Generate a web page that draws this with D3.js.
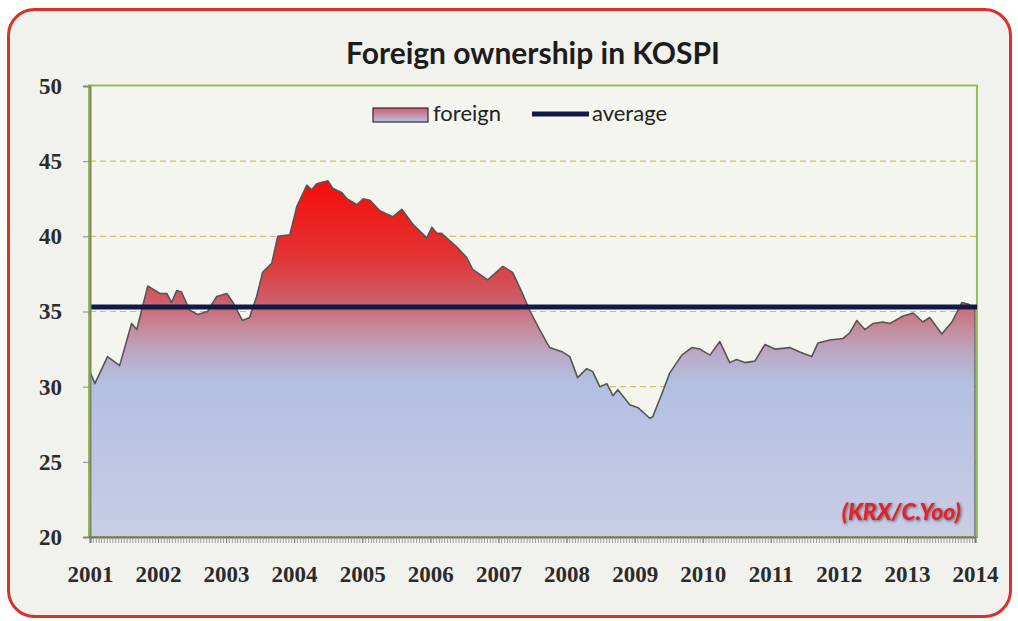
<!DOCTYPE html>
<html>
<head>
<meta charset="utf-8">
<script src="https://cdn.jsdelivr.net/npm/d3@7"></script>
<style>
  body { margin: 0; background: #ffffff; }
  svg { display: block; }
</style>
</head>
<body>
<svg id="chart" width="1018" height="621"></svg>
<script>
// Foreign share of KOSPI market capitalisation (%), sampled at turning points
const dates = [
  "2001-01-01","2001-01-27","2001-04-05","2001-06-09","2001-08-12","2001-09-09","2001-11-07",
  "2002-01-11","2002-02-17","2002-03-14","2002-04-11","2002-05-07","2002-06-19","2002-08-01",
  "2002-09-24","2002-11-12","2003-01-05","2003-02-07","2003-03-30","2003-05-07","2003-06-14",
  "2003-07-16","2003-09-03","2003-10-05","2003-12-09","2004-01-16","2004-03-09","2004-04-05",
  "2004-05-01","2004-06-30","2004-07-26","2004-09-14","2004-10-10","2004-12-03","2005-01-05",
  "2005-02-11","2005-04-05","2005-06-13","2005-08-01","2005-09-29","2005-12-13","2006-01-09",
  "2006-02-05","2006-03-02","2006-05-22","2006-07-14","2006-08-16","2006-11-05","2007-01-25",
  "2007-03-18","2007-05-10","2007-06-17","2007-08-10","2007-10-03","2007-12-12","2008-01-19",
  "2008-03-01","2008-04-19","2008-05-21","2008-06-28","2008-08-05","2008-09-06","2008-10-03",
  "2008-12-06","2009-01-19","2009-03-23","2009-04-08","2009-05-26","2009-07-08","2009-09-11",
  "2009-11-04","2009-12-17","2010-02-09","2010-04-03","2010-05-26","2010-07-02","2010-08-15",
  "2010-10-08","2010-12-01","2011-01-24","2011-04-13","2011-06-06","2011-08-09","2011-09-11",
  "2011-11-14","2012-01-23","2012-03-01","2012-04-07","2012-05-20","2012-07-02","2012-08-25",
  "2012-10-02","2012-12-11","2013-02-03","2013-03-27","2013-05-03","2013-07-07","2013-08-30",
  "2013-10-23","2013-11-24","2014-01-01"
];
const foreign = [
  31.0, 30.2, 32.0, 31.4, 34.2, 33.8, 36.7,
  36.2, 36.2, 35.6, 36.4, 36.3, 35.1, 34.8,
  35.0, 36.0, 36.2, 35.6, 34.4, 34.6, 36.0,
  37.6, 38.2, 40.0, 40.1, 42.0, 43.4, 43.1,
  43.5, 43.7, 43.2, 42.9, 42.5, 42.1, 42.5,
  42.4, 41.7, 41.3, 41.8, 40.8, 39.9, 40.6,
  40.2, 40.2, 39.3, 38.6, 37.8, 37.1, 38.0,
  37.6, 36.2, 35.1, 33.8, 32.6, 32.3, 32.0,
  30.6, 31.2, 31.0, 30.0, 30.2, 29.4, 29.8,
  28.8, 28.6, 27.9, 28.0, 29.5, 30.9, 32.1,
  32.6, 32.5, 32.1, 33.0, 31.6, 31.8, 31.6,
  31.7, 32.8, 32.5, 32.6, 32.3, 32.0, 32.9,
  33.1, 33.2, 33.6, 34.4, 33.8, 34.2, 34.3,
  34.2, 34.7, 34.9, 34.3, 34.6, 33.5, 34.3,
  35.6, 35.5, 35.2
];
const average = 35.3;
const yTicks = [20, 25, 30, 35, 40, 45, 50];
const gridValues = [25, 30, 35, 40, 45];
const yearLabels = [2001,2002,2003,2004,2005,2006,2007,2008,2009,2010,2011,2012,2013,2014];
const legendLabels = ["foreign", "average"];
const titleText = "Foreign ownership in KOSPI";
const sourceText = "(KRX/C.Yoo)";

const parse = d3.timeParse("%Y-%m-%d");
const series = dates.map((d, i) => ({ date: parse(d), value: foreign[i] }));

const svg = d3.select("#chart");
const plot = { left: 90, right: 975, top: 86, bottom: 537 };

const x = d3.scaleTime()
  .domain([new Date(2001, 0, 1), new Date(2014, 0, 1)])
  .range([plot.left, plot.right]);
const y = d3.scaleLinear().domain([20, 50]).range([plot.bottom, plot.top]);

const defs = svg.append("defs");

// vertical fill: red above the mean band, lavender-blue below
const grad = defs.append("linearGradient")
  .attr("id", "areaFill")
  .attr("gradientUnits", "userSpaceOnUse")
  .attr("x1", 0).attr("x2", 0)
  .attr("y1", y(44)).attr("y2", y(20));
[
  [0.00, "#f80a0a"],
  [0.22, "#e33333"],
  [0.34, "#cd5c68"],
  [0.42, "#c58a9c"],
  [0.49, "#bba8c4"],
  [0.57, "#b3bfe0"],
  [1.00, "#c9cde6"]
].forEach(([o, c]) => grad.append("stop").attr("offset", o).attr("stop-color", c));

const legendGrad = defs.append("linearGradient")
  .attr("id", "legendFill").attr("x1", 0).attr("x2", 0).attr("y1", 0).attr("y2", 1);
legendGrad.append("stop").attr("offset", 0).attr("stop-color", "#d0606c");
legendGrad.append("stop").attr("offset", 1).attr("stop-color", "#b8c2e2");

const glow = defs.append("filter").attr("id", "srcShadow")
  .attr("x", "-10%").attr("y", "-30%").attr("width", "120%").attr("height", "160%");
glow.append("feGaussianBlur").attr("in", "SourceAlpha").attr("stdDeviation", 1.6).attr("result", "b");
glow.append("feOffset").attr("in", "b").attr("dx", 1).attr("dy", 1).attr("result", "o");
glow.append("feComponentTransfer").attr("in", "o").attr("result", "s")
  .append("feFuncA").attr("type", "linear").attr("slope", 0.55);
const merge = glow.append("feMerge");
merge.append("feMergeNode").attr("in", "s");
merge.append("feMergeNode").attr("in", "SourceGraphic");

// card with rounded red frame
svg.append("rect")
  .attr("x", 8.5).attr("y", 9.5).attr("width", 1002).attr("height", 607)
  .attr("rx", 26).attr("ry", 26)
  .attr("fill", "#f1f1ed").attr("stroke", "#d6322c").attr("stroke-width", 3);

// plot background
svg.append("rect")
  .attr("x", plot.left).attr("y", plot.top)
  .attr("width", plot.right - plot.left).attr("height", plot.bottom - plot.top)
  .attr("fill", "#f5f5ef");

// dashed gridlines
svg.append("g").selectAll("line").data(gridValues).join("line")
  .attr("x1", plot.left).attr("x2", plot.right + 2)
  .attr("y1", d => y(d)).attr("y2", d => y(d))
  .attr("stroke", "#cdc46a").attr("stroke-width", 1.2)
  .attr("stroke-dasharray", "6,4");

// area + outline
const area = d3.area().x(d => x(d.date)).y0(y(20)).y1(d => y(d.value));
const line = d3.line().x(d => x(d.date)).y(d => y(d.value));

svg.append("path").datum(series)
  .attr("d", area).attr("fill", "url(#areaFill)");
svg.append("path").datum(series)
  .attr("d", line).attr("fill", "none")
  .attr("stroke", "#565656").attr("stroke-width", 1.6).attr("stroke-linejoin", "round");
svg.append("line")
  .attr("x1", x(series[series.length - 1].date)).attr("x2", x(series[series.length - 1].date))
  .attr("y1", y(series[series.length - 1].value)).attr("y2", y(20))
  .attr("stroke", "#565656").attr("stroke-width", 1.2);

// plot frame (green)
svg.append("rect")
  .attr("x", plot.left - 1).attr("y", plot.top - 0.5)
  .attr("width", plot.right - plot.left + 3).attr("height", plot.bottom - plot.top + 0.5)
  .attr("fill", "none").attr("stroke", "#9cbb5a").attr("stroke-width", 2);

// average line
svg.append("line")
  .attr("x1", plot.left).attr("x2", plot.right + 2)
  .attr("y1", y(average)).attr("y2", y(average))
  .attr("stroke", "#101a48").attr("stroke-width", 5);

// y axis
const yAxis = svg.append("g")
  .attr("transform", `translate(${plot.left},0)`)
  .call(d3.axisLeft(y).tickValues(yTicks).tickSize(7).tickPadding(21).tickFormat(d3.format("d")));
yAxis.select(".domain").attr("stroke", "#7e876a").attr("stroke-width", 2);
yAxis.selectAll(".tick line").attr("stroke", "#8a8a8a");
yAxis.selectAll("text")
  .attr("font-family", "'Liberation Serif', 'DejaVu Serif', serif")
  .attr("font-weight", "bold").attr("font-size", 23).attr("fill", "#2b2b2b");

// x axis: minor ticks
const minorDates = d3.timeMonth.range(new Date(2001, 0, 1), new Date(2014, 0, 2))
  .flatMap(m => [m, new Date(m.getFullYear(), m.getMonth(), 16)])
  .filter(d => d <= new Date(2014, 0, 1));
const xMinor = svg.append("g")
  .attr("transform", `translate(0,${plot.bottom})`)
  .call(d3.axisBottom(x).tickValues(minorDates).tickSize(6).tickFormat(""));
xMinor.select(".domain").attr("stroke", "#6e6e6e").attr("stroke-width", 2);
xMinor.selectAll(".tick line").attr("stroke", "#8c8c8c").attr("stroke-width", 0.8);

// x axis: year labels
const xAxis = svg.append("g")
  .attr("transform", `translate(0,${plot.bottom})`)
  .call(d3.axisBottom(x)
    .tickValues(yearLabels.map(yr => new Date(yr, 0, 1)))
    .tickSize(6).tickPadding(23).tickFormat(d3.timeFormat("%Y")));
xAxis.select(".domain").remove();
xAxis.selectAll(".tick line").attr("stroke", "#7a7a7a");
xAxis.selectAll("text")
  .attr("font-family", "'Liberation Serif', 'DejaVu Serif', serif")
  .attr("font-weight", "bold").attr("font-size", 23).attr("fill", "#2b2b2b");

// title
svg.append("text")
  .attr("x", 533).attr("y", 64).attr("text-anchor", "middle")
  .attr("font-family", "Lato, 'Open Sans', sans-serif")
  .attr("font-weight", "bold").attr("font-size", 30).attr("fill", "#1c1c1c")
  .text(titleText);

// legend
const lg = svg.append("g");
lg.append("rect").attr("x", 373).attr("y", 108).attr("width", 55).attr("height", 14)
  .attr("fill", "url(#legendFill)").attr("stroke", "#2a2a3a").attr("stroke-width", 1.2);
lg.append("text").attr("x", 433).attr("y", 121)
  .attr("font-family", "Lato, 'Open Sans', sans-serif").attr("font-size", 22).attr("fill", "#222")
  .text(legendLabels[0]);
lg.append("line").attr("x1", 532).attr("x2", 589).attr("y1", 114).attr("y2", 114)
  .attr("stroke", "#101a48").attr("stroke-width", 5);
lg.append("text").attr("x", 592).attr("y", 121)
  .attr("font-family", "Lato, 'Open Sans', sans-serif").attr("font-size", 22).attr("fill", "#222")
  .text(legendLabels[1]);

// source note
svg.append("text")
  .attr("x", 961).attr("y", 520).attr("text-anchor", "end")
  .attr("font-family", "Lato, 'Open Sans', sans-serif")
  .attr("font-weight", "900").attr("font-style", "italic").attr("font-size", 23)
  .attr("fill", "#e3222a").attr("filter", "url(#srcShadow)")
  .text(sourceText);
</script>
</body>
</html>
